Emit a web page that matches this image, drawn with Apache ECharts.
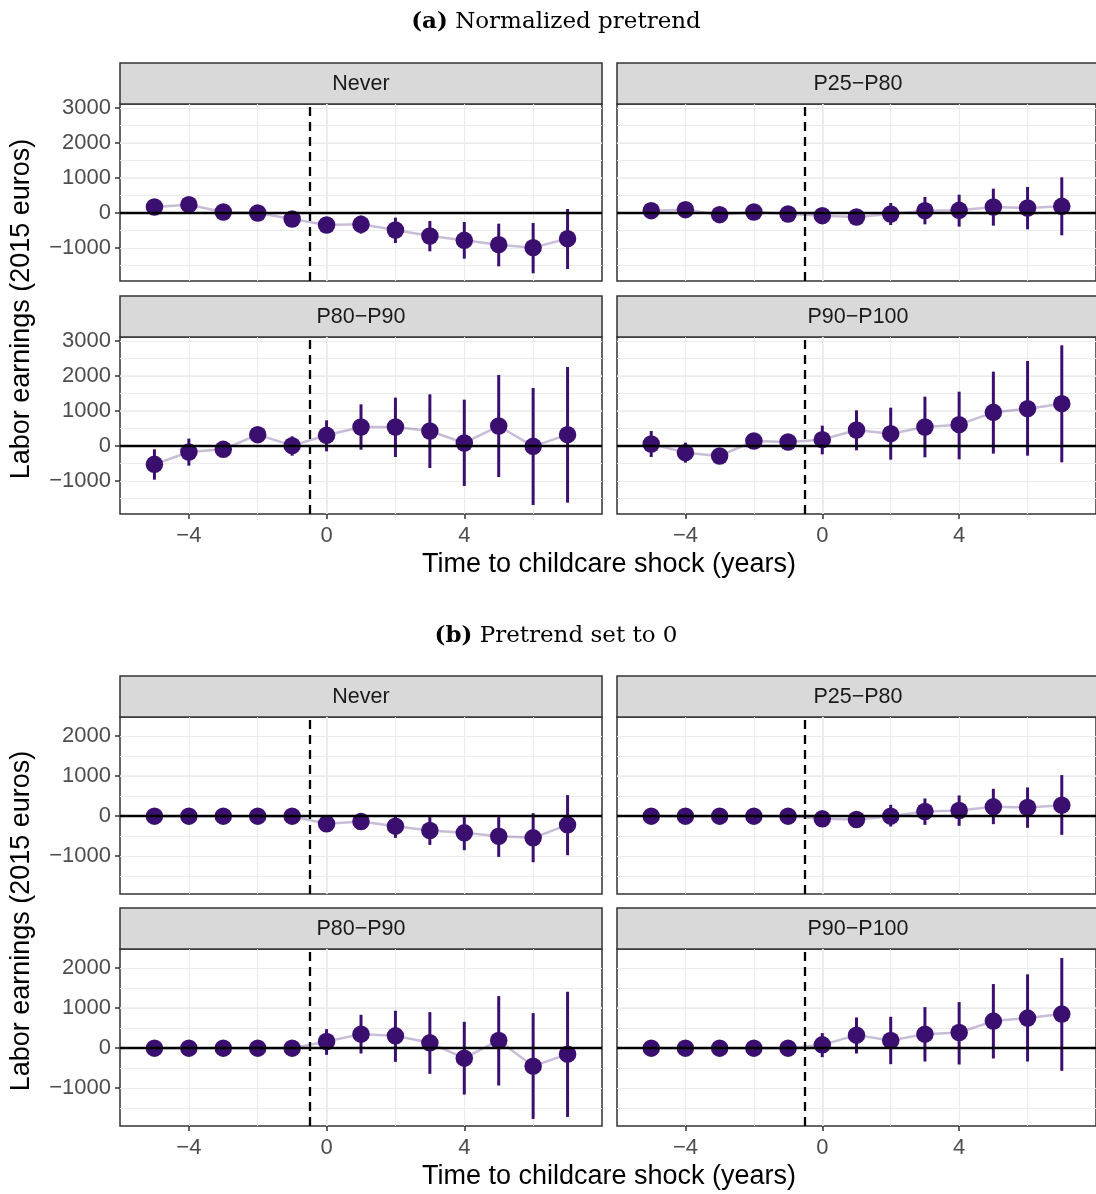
<!DOCTYPE html>
<html>
<head>
<meta charset="utf-8">
<script src="https://cdn.jsdelivr.net/npm/echarts@6/dist/echarts.min.js"></script>
<style>
html, body { margin: 0; padding: 0; background: #fff; }
#chart { width: 1096px; height: 1194px; }
</style>
</head>
<body>
<div id="chart"></div>
<script>
var years = [-5, -4, -3, -2, -1, 0, 1, 2, 3, 4, 5, 6, 7];
var facetNames = ['Never', 'P25\u2212P80', 'P80\u2212P90', 'P90\u2212P100'];
var xTicks = [-4, 0, 4];
var yTicksA = [-1000, 0, 1000, 2000, 3000];
var yTicksB = [-1000, 0, 1000, 2000];

// (a) normalized pretrend
var aNeverEst = [171, 238, 29, 0, -171, -343, -324, -486, -657, -781, -905, -990, -733];
var aNeverLo  = [50, 120, -90, -110, -290, -480, -590, -857, -1095, -1305, -1524, -1724, -1600];
var aNeverHi  = [290, 360, 150, 110, -50, -200, -76, -133, -229, -257, -305, -286, 114];

var aP25Est = [67, 95, -48, 29, -29, -76, -114, -29, 67, 76, 171, 143, 190];
var aP25Lo  = [-60, -30, -170, -90, -150, -200, -240, -343, -324, -390, -362, -467, -638];
var aP25Hi  = [190, 220, 70, 150, 90, 50, 10, 286, 457, 524, 695, 743, 1019];

var aP80Est = [-524, -171, -95, 324, 10, 305, 543, 543, 429, 86, 571, -10, 324];
var aP80Lo  = [-962, -562, -230, 190, -276, -152, -105, -314, -629, -1143, -886, -1686, -1619];
var aP80Hi  = [-95, 210, 40, 460, 276, 733, 1190, 1381, 1476, 1324, 2029, 1657, 2257];

var aP90Est = [57, -190, -286, 143, 114, 181, 457, 352, 543, 610, 962, 1067, 1210];
var aP90Lo  = [-314, -476, -420, 20, -10, -238, -124, -390, -324, -381, -219, -276, -467];
var aP90Hi  = [429, 95, -150, 270, 240, 581, 1019, 1095, 1410, 1552, 2124, 2429, 2876];

// (b) pretrend set to 0
var bNeverEst = [0, 0, 0, 0, 0, -192, -133, -250, -358, -417, -500, -542, -217];
var bNeverLo  = [0, 0, 0, 0, 0, -330, -280, -542, -717, -850, -1017, -1150, -975];
var bNeverHi  = [0, 0, 0, 0, 0, -50, 10, 17, -25, -25, -25, 75, 525];

var bP25Est = [0, 0, 0, 0, 0, -67, -83, 0, 117, 142, 233, 217, 275];
var bP25Lo  = [0, 0, 0, 0, 0, -190, -210, -258, -217, -242, -200, -292, -467];
var bP25Hi  = [0, 0, 0, 0, 0, 60, 40, 283, 442, 517, 683, 717, 1025];

var bP80Est = [0, 0, 0, 0, 0, 167, 350, 308, 133, -250, 192, -450, -150];
var bP80Lo  = [0, 0, 0, 0, 0, -167, -133, -342, -642, -1158, -933, -1767, -1717];
var bP80Hi  = [0, 0, 0, 0, 0, 475, 833, 933, 900, 658, 1300, 875, 1408];

var bP90Est = [0, 0, 0, 0, 0, 83, 325, 192, 350, 392, 675, 750, 850];
var bP90Lo  = [0, 0, 0, 0, 0, -225, -133, -400, -333, -408, -258, -333, -567];
var bP90Hi  = [0, 0, 0, 0, 0, 375, 767, 783, 1025, 1150, 1600, 1842, 2250];

var purple = '#3B0F70';
var sansFont = '"Liberation Sans", Arial, sans-serif';

var panels = [
    { tag: '(a)', title: ' Normalized pretrend', titleY: 22, xTitleY: 565, yTitleY: 309,
      rowTops: [104, 337], yMin: -1943, yMax: 3114, yTicks: yTicksA,
      facets: [[aNeverEst, aNeverLo, aNeverHi], [aP25Est, aP25Lo, aP25Hi],
               [aP80Est, aP80Lo, aP80Hi], [aP90Est, aP90Lo, aP90Hi]] },
    { tag: '(b)', title: ' Pretrend set to 0', titleY: 636, xTitleY: 1177, yTitleY: 921,
      rowTops: [717, 949], yMin: -1943, yMax: 2475, yTicks: yTicksB,
      facets: [[bNeverEst, bNeverLo, bNeverHi], [bP25Est, bP25Lo, bP25Hi],
               [bP80Est, bP80Lo, bP80Hi], [bP90Est, bP90Lo, bP90Hi]] }
];

var colLefts = [120, 617];
var plotW = 482, plotH = 177, stripH = 41;

function minusFmt(v) { return String(v).replace('-', '\u2212'); }

function errorBar(params, api) {
    var p1 = api.coord([api.value(0), api.value(1)]);
    var p2 = api.coord([api.value(0), api.value(2)]);
    return {
        type: 'line',
        shape: { x1: p1[0], y1: p1[1], x2: p2[0], y2: p2[1] },
        style: { stroke: purple, lineWidth: 3 }
    };
}

var grid = [], xAxis = [], yAxis = [], series = [], graphic = [];

panels.forEach(function (pn) {
    graphic.push({
        type: 'text', x: 556, y: pn.titleY,
        style: {
            text: '{b|' + pn.tag + '}' + pn.title,
            font: '23px "DejaVu Serif", serif', fill: '#000',
            align: 'center', verticalAlign: 'middle',
            rich: { b: { fontWeight: 'bold', fontSize: 23, fontFamily: '"DejaVu Serif", serif' } }
        }
    });
    graphic.push({
        type: 'text', x: 609, y: pn.xTitleY,
        style: { text: 'Time to childcare shock (years)', font: '27px ' + sansFont, fill: '#000',
                 align: 'center', verticalAlign: 'middle' }
    });
    graphic.push({
        type: 'text', x: 22, y: pn.yTitleY, rotation: Math.PI / 2,
        style: { text: 'Labor earnings (2015 euros)', font: '27px ' + sansFont, fill: '#000',
                 align: 'center', verticalAlign: 'middle' }
    });

    pn.facets.forEach(function (f, k) {
        var row = Math.floor(k / 2), col = k % 2;
        var top = pn.rowTops[row], left = colLefts[col];
        var g = grid.length;
        var bottomRow = row === 1, leftCol = col === 0;

        grid.push({ left: left, top: top, width: plotW, height: plotH, show: true,
                    backgroundColor: '#fff', borderColor: '#333', borderWidth: 1.5 });

        graphic.push({
            type: 'rect', shape: { x: left, y: top - stripH, width: plotW, height: stripH },
            style: { fill: '#D9D9D9', stroke: '#333', lineWidth: 1.5 }
        });
        graphic.push({
            type: 'text', x: left + plotW / 2, y: top - stripH / 2 + 1,
            style: { text: facetNames[k], font: '21.5px ' + sansFont, fill: '#1A1A1A',
                     align: 'center', verticalAlign: 'middle' }
        });

        // visible x axis (ticks, labels, major grid)
        xAxis.push({
            type: 'value', gridIndex: g, min: -6, max: 8, position: 'bottom',
            axisLine: { show: false, onZero: false },
            axisTick: { show: bottomRow, customValues: xTicks, length: 5,
                        lineStyle: { color: '#333', width: 1.5 } },
            axisLabel: { show: bottomRow, customValues: xTicks, formatter: minusFmt, margin: 11,
                         color: '#4D4D4D', fontSize: 22, fontFamily: sansFont },
            splitLine: { show: true, showMinLine: false, showMaxLine: false,
                         lineStyle: { color: '#EBEBEB', width: 1.6 } }
        });
        // hidden x axis for minor grid
        xAxis.push({
            type: 'value', gridIndex: g, min: -6, max: 8, interval: 2, position: 'bottom',
            axisLine: { show: false, onZero: false }, axisTick: { show: false }, axisLabel: { show: false },
            splitLine: { show: true, showMinLine: false, showMaxLine: false,
                         lineStyle: { color: '#EBEBEB', width: 1.1 } }
        });
        yAxis.push({
            type: 'value', gridIndex: g, min: pn.yMin, max: pn.yMax, splitNumber: 4, position: 'left',
            axisLine: { show: false, onZero: false },
            axisTick: { show: leftCol, customValues: pn.yTicks, length: 5,
                        lineStyle: { color: '#333', width: 1.5 } },
            axisLabel: { show: leftCol, customValues: pn.yTicks, formatter: minusFmt, margin: 9,
                         color: '#4D4D4D', fontSize: 22, fontFamily: sansFont },
            splitLine: { show: true, showMinLine: false, showMaxLine: false,
                         lineStyle: { color: '#EBEBEB', width: 1.6 } }
        });
        yAxis.push({
            type: 'value', gridIndex: g, min: pn.yMin, max: pn.yMax, splitNumber: 9, position: 'left',
            axisLine: { show: false, onZero: false }, axisTick: { show: false }, axisLabel: { show: false },
            splitLine: { show: true, showMinLine: false, showMaxLine: false,
                         lineStyle: { color: '#EBEBEB', width: 1.1 } }
        });

        var xi = 2 * g, yi = 2 * g;
        var est = f[0], lo = f[1], hi = f[2];
        var pts = years.map(function (yr, i) { return [yr, est[i]]; });
        var bars = years.map(function (yr, i) { return [yr, lo[i], hi[i]]; });

        series.push({
            type: 'line', xAxisIndex: xi, yAxisIndex: yi, data: pts, z: 2,
            showSymbol: false, silent: true,
            lineStyle: { color: 'rgba(59,15,112,0.28)', width: 2.5 },
            markLine: {
                silent: true, symbol: ['none', 'none'], label: { show: false },
                data: [
                    { xAxis: -0.5, lineStyle: { color: '#000', width: 2.3, type: [9, 6] } },
                    { yAxis: 0, lineStyle: { color: '#000', width: 2.3, type: 'solid' } }
                ]
            }
        });
        series.push({
            type: 'custom', xAxisIndex: xi, yAxisIndex: yi, data: bars, z: 3,
            encode: { x: 0, y: [1, 2] }, renderItem: errorBar, silent: true
        });
        series.push({
            type: 'scatter', xAxisIndex: xi, yAxisIndex: yi, data: pts, z: 4,
            symbolSize: 17.5, itemStyle: { color: purple, opacity: 1 }, silent: true
        });
    });
});

var chart = echarts.init(document.getElementById('chart'), null, { renderer: 'canvas' });
chart.setOption({
    animation: false,
    backgroundColor: '#fff',
    grid: grid,
    xAxis: xAxis,
    yAxis: yAxis,
    series: series,
    graphic: graphic
});
</script>
</body>
</html>
